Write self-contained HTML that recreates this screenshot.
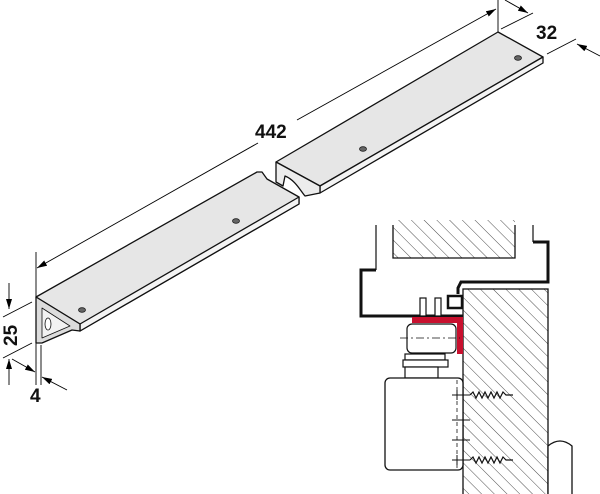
<!DOCTYPE html>
<html><head><meta charset="utf-8"><style>html,body{margin:0;padding:0;background:#fff}svg{display:block}</style></head>
<body>
<svg width="600" height="494" viewBox="0 0 600 494" xmlns="http://www.w3.org/2000/svg" font-family="Liberation Sans, sans-serif">
<defs>
<pattern id="h" width="9" height="9" patternUnits="userSpaceOnUse" patternTransform="rotate(-45)">
<line x1="0" y1="0" x2="0" y2="9" stroke="#222" stroke-width="0.8"/>
</pattern>
<marker id="a" markerWidth="10" markerHeight="6" refX="10" refY="3" orient="auto" markerUnits="userSpaceOnUse"><path d="M0,0 L10,3 L0,6z" fill="#000"/></marker>
</defs>
<g stroke="#000" stroke-width="0.9" fill="none">
<line x1="36" y1="252" x2="36" y2="345"/>
<line x1="498" y1="0" x2="498" y2="32"/>
<line x1="258" y1="143" x2="37" y2="268" marker-end="url(#a)"/>
<line x1="297" y1="120" x2="496" y2="9" marker-end="url(#a)"/>
<line x1="501" y1="29" x2="533" y2="13"/>
<line x1="547" y1="54" x2="576" y2="39"/>
<line x1="505" y1="0" x2="528" y2="13" marker-end="url(#a)"/>
<line x1="600" y1="56" x2="577" y2="44" marker-end="url(#a)"/>
<line x1="3" y1="317" x2="32" y2="302"/>
<line x1="3" y1="358" x2="32" y2="343"/>
<line x1="9" y1="283" x2="9" y2="309" marker-end="url(#a)"/>
<line x1="9" y1="385" x2="9" y2="359" marker-end="url(#a)"/>
<line x1="41" y1="345" x2="41" y2="385"/>
<line x1="36" y1="345" x2="36" y2="385"/>
<line x1="12" y1="359" x2="35" y2="372" marker-end="url(#a)"/>
<line x1="67" y1="390" x2="42" y2="377" marker-end="url(#a)"/>
</g>
<g font-size="19" font-weight="bold" fill="#111">
<text x="255" y="138">442</text>
<text x="536" y="39">32</text>
<text x="30" y="402">4</text>
<text transform="translate(17,346) rotate(-90)">25</text>
</g>
<g stroke="#111" stroke-width="1.3" stroke-linejoin="round">
<path d="M36,297 L257,172 L262,172 L267,179 L299,197 L299,204 L80,331 L80,324 Z" fill="#e6e6e6"/>
<path d="M80,324 L299,197 L299,204 L80,331 Z" fill="#f4f4f4"/>
<path d="M36,297 L80,324 L80,331 L72,330 L42,343 L36,343 Z" fill="#dcdcdc"/>
<path d="M42,308 L42,338 L70,326 Z" fill="#f2f2f2" stroke-width="0.8"/>
<ellipse cx="48" cy="324" rx="3" ry="6" fill="#fff" stroke-width="0.8"/>
<path d="M276,162 L498,32 L543,57 L320,186 Z" fill="#e6e6e6"/>
<path d="M320,186 L543,57 L543,63 L320,193 Z" fill="#f4f4f4"/>
<path d="M276,162 L320,186 L320,193 L305,196 C300,190 295,180 285,176 L283,186 L276,182 Z" fill="#ececec"/>
</g>
<g fill="#666" stroke="#222" stroke-width="0.8">
<ellipse cx="82" cy="310" rx="3.5" ry="2.3"/><ellipse cx="236" cy="221" rx="3.5" ry="2.3"/>
<ellipse cx="363" cy="149" rx="3.5" ry="2.3"/><ellipse cx="518" cy="58" rx="3.5" ry="2.3"/>
</g>
<g stroke="#111" fill="none">
<rect x="393" y="220" width="122" height="38" fill="url(#h)" stroke="none"/>
<path d="M393,225 L393,258 L515,258 L515,225" stroke-width="1.3"/>
<line x1="376" y1="225" x2="376" y2="270" stroke-width="1.2"/>
<line x1="533" y1="225" x2="533" y2="242" stroke-width="1.2"/>
<rect x="463" y="289" width="85" height="206" fill="url(#h)" stroke-width="1.3"/>
<path d="M376,270 L361,270 L361,316 L463,316" stroke-width="3"/>
<path d="M533,242 L548,242 L548,282 L461,282 L458,288 L458,294" stroke-width="3"/>
<path d="M448,296 L462,296 L462,308 L448,308 Z" stroke-width="2.5" fill="#fff"/>
<rect x="420" y="298" width="6" height="18" stroke-width="1.2" fill="#fff"/>
<rect x="435" y="298" width="6" height="18" stroke-width="1.2" fill="#fff"/>
<path d="M412,317 L463,317 L463,354 L457,354 L457,323 L412,323 Z" fill="#c8102e" stroke="none"/>
<rect x="407" y="324" width="49" height="29" rx="5" fill="#fff" stroke-width="1.2"/>
<line x1="400" y1="338" x2="460" y2="338" stroke-width="0.8" stroke-dasharray="8,3,2,3"/>
<rect x="405" y="354" width="40" height="6" fill="#fff" stroke-width="1.2"/>
<rect x="403" y="360" width="45" height="7" fill="#fff" stroke-width="1.2"/>
<rect x="405" y="367" width="33" height="11" fill="#fff" stroke-width="1.2"/>
<rect x="385" y="378" width="78" height="92" rx="5" fill="#fff" stroke-width="1.3"/>
<line x1="457" y1="380" x2="457" y2="468" stroke-width="0.8" stroke-dasharray="4,3"/>
<g stroke-width="1"><line x1="452" y1="395" x2="470" y2="395"/><line x1="452" y1="420" x2="470" y2="420"/><line x1="452" y1="440" x2="470" y2="440"/><line x1="452" y1="460" x2="470" y2="460"/>
<line x1="457" y1="390" x2="457" y2="400"/><line x1="457" y1="455" x2="457" y2="465"/></g>
<g stroke-width="1.2"><path d="M470,395 l3,-3 3,6 3,-6 3,6 3,-6 3,6 3,-6 3,6 3,-6 3,6 3,-6 3,3 L513,395"/><path d="M470,460 l3,-3 3,6 3,-6 3,6 3,-6 3,6 3,-6 3,6 3,-6 3,6 3,-6 3,3 L513,460"/></g>
<path d="M548,494 L548,446 Q560,436 572,446 L572,494" fill="#fff" stroke-width="1.3"/>
</g>
</svg>
</body></html>
